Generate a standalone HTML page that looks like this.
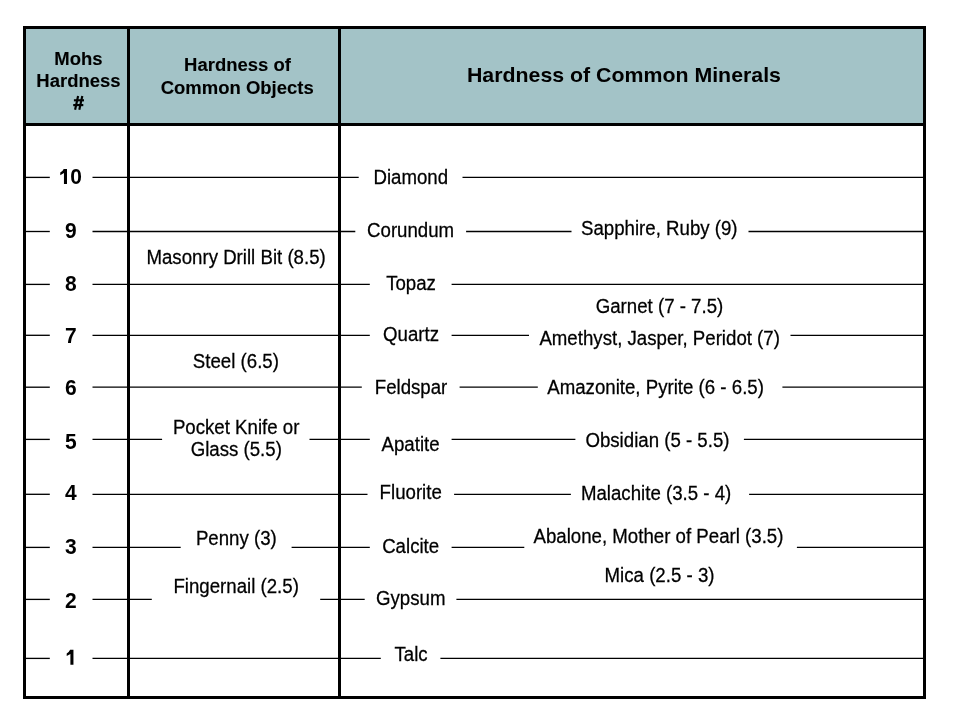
<!DOCTYPE html><html><head><meta charset="utf-8"><style>html,body{margin:0;padding:0;background:#fff;width:960px;height:720px;overflow:hidden}svg{display:block;will-change:transform}text{font-family:"Liberation Sans",sans-serif;fill:#000}</style></head><body>
<svg width="960" height="720" viewBox="0 0 960 720">
<rect x="0" y="0" width="960" height="720" fill="#fff"/>
<rect x="24.5" y="27.5" width="900.0" height="97.0" fill="#A3C3C7"/>
<line x1="24.5" y1="177.4" x2="49.8" y2="177.4" stroke="#000" stroke-width="1.33"/>
<line x1="92.5" y1="177.4" x2="358.7" y2="177.4" stroke="#000" stroke-width="1.33"/>
<line x1="462.5" y1="177.4" x2="925.8" y2="177.4" stroke="#000" stroke-width="1.33"/>
<line x1="24.5" y1="231.5" x2="49.8" y2="231.5" stroke="#000" stroke-width="1.33"/>
<line x1="92.5" y1="231.5" x2="355.3" y2="231.5" stroke="#000" stroke-width="1.33"/>
<line x1="466.1" y1="231.5" x2="571.5" y2="231.5" stroke="#000" stroke-width="1.33"/>
<line x1="748.5" y1="231.5" x2="925.8" y2="231.5" stroke="#000" stroke-width="1.33"/>
<line x1="24.5" y1="284.4" x2="49.8" y2="284.4" stroke="#000" stroke-width="1.33"/>
<line x1="92.5" y1="284.4" x2="369.8" y2="284.4" stroke="#000" stroke-width="1.33"/>
<line x1="451.6" y1="284.4" x2="925.8" y2="284.4" stroke="#000" stroke-width="1.33"/>
<line x1="24.5" y1="335.3" x2="49.8" y2="335.3" stroke="#000" stroke-width="1.33"/>
<line x1="92.5" y1="335.3" x2="369.8" y2="335.3" stroke="#000" stroke-width="1.33"/>
<line x1="451.6" y1="335.3" x2="529.0" y2="335.3" stroke="#000" stroke-width="1.33"/>
<line x1="790.5" y1="335.3" x2="925.8" y2="335.3" stroke="#000" stroke-width="1.33"/>
<line x1="24.5" y1="387.2" x2="49.8" y2="387.2" stroke="#000" stroke-width="1.33"/>
<line x1="92.5" y1="387.2" x2="361.8" y2="387.2" stroke="#000" stroke-width="1.33"/>
<line x1="459.6" y1="387.2" x2="537.8" y2="387.2" stroke="#000" stroke-width="1.33"/>
<line x1="782.4" y1="387.2" x2="925.8" y2="387.2" stroke="#000" stroke-width="1.33"/>
<line x1="24.5" y1="439.4" x2="49.8" y2="439.4" stroke="#000" stroke-width="1.33"/>
<line x1="92.5" y1="439.4" x2="162.1" y2="439.4" stroke="#000" stroke-width="1.33"/>
<line x1="309.5" y1="439.4" x2="369.8" y2="439.4" stroke="#000" stroke-width="1.33"/>
<line x1="451.6" y1="439.4" x2="575.4" y2="439.4" stroke="#000" stroke-width="1.33"/>
<line x1="743.9" y1="439.4" x2="925.8" y2="439.4" stroke="#000" stroke-width="1.33"/>
<line x1="24.5" y1="494.3" x2="49.8" y2="494.3" stroke="#000" stroke-width="1.33"/>
<line x1="92.5" y1="494.3" x2="367.5" y2="494.3" stroke="#000" stroke-width="1.33"/>
<line x1="454.1" y1="494.3" x2="570.9" y2="494.3" stroke="#000" stroke-width="1.33"/>
<line x1="749.1" y1="494.3" x2="925.8" y2="494.3" stroke="#000" stroke-width="1.33"/>
<line x1="24.5" y1="547.4" x2="49.8" y2="547.4" stroke="#000" stroke-width="1.33"/>
<line x1="92.5" y1="547.4" x2="180.7" y2="547.4" stroke="#000" stroke-width="1.33"/>
<line x1="291.6" y1="547.4" x2="369.8" y2="547.4" stroke="#000" stroke-width="1.33"/>
<line x1="451.6" y1="547.4" x2="524.3" y2="547.4" stroke="#000" stroke-width="1.33"/>
<line x1="796.9" y1="547.4" x2="925.8" y2="547.4" stroke="#000" stroke-width="1.33"/>
<line x1="24.5" y1="599.4" x2="49.8" y2="599.4" stroke="#000" stroke-width="1.33"/>
<line x1="92.5" y1="599.4" x2="151.8" y2="599.4" stroke="#000" stroke-width="1.33"/>
<line x1="320.2" y1="599.4" x2="364.7" y2="599.4" stroke="#000" stroke-width="1.33"/>
<line x1="456.4" y1="599.4" x2="925.8" y2="599.4" stroke="#000" stroke-width="1.33"/>
<line x1="24.5" y1="658.4" x2="49.8" y2="658.4" stroke="#000" stroke-width="1.33"/>
<line x1="92.5" y1="658.4" x2="380.8" y2="658.4" stroke="#000" stroke-width="1.33"/>
<line x1="440.4" y1="658.4" x2="925.8" y2="658.4" stroke="#000" stroke-width="1.33"/>
<rect x="24.5" y="27.5" width="900.0" height="670.0" fill="none" stroke="#000" stroke-width="3"/>
<line x1="24.5" y1="124.5" x2="924.5" y2="124.5" stroke="#000" stroke-width="3"/>
<line x1="128.5" y1="27.5" x2="128.5" y2="697.5" stroke="#000" stroke-width="3"/>
<line x1="339.5" y1="27.5" x2="339.5" y2="697.5" stroke="#000" stroke-width="3"/>
<text transform="translate(236.10,263.75) scale(1,1.035)" font-size="18.67" font-weight="400" text-anchor="middle" stroke="#000" stroke-width="0.25">Masonry Drill Bit (8.5)</text>
<text transform="translate(235.90,367.8) scale(1,1.035)" font-size="18.67" font-weight="400" text-anchor="middle" stroke="#000" stroke-width="0.25">Steel (6.5)</text>
<text transform="translate(236.15,434.3) scale(1,1.035)" font-size="18.67" font-weight="400" text-anchor="middle" stroke="#000" stroke-width="0.25">Pocket Knife or</text>
<text transform="translate(236.25,456) scale(1,1.035)" font-size="18.67" font-weight="400" text-anchor="middle" stroke="#000" stroke-width="0.25">Glass (5.5)</text>
<text transform="translate(236.35,544.8) scale(1,1.035)" font-size="18.67" font-weight="400" text-anchor="middle" stroke="#000" stroke-width="0.25">Penny (3)</text>
<text transform="translate(236.15,593.4) scale(1,1.035)" font-size="18.67" font-weight="400" text-anchor="middle" stroke="#000" stroke-width="0.25">Fingernail (2.5)</text>
<text transform="translate(410.75,184.1) scale(1,1.035)" font-size="18.67" font-weight="400" text-anchor="middle" stroke="#000" stroke-width="0.25">Diamond</text>
<text transform="translate(410.60,236.6) scale(1,1.035)" font-size="18.67" font-weight="400" text-anchor="middle" stroke="#000" stroke-width="0.25">Corundum</text>
<text transform="translate(411.05,289.8) scale(1,1.035)" font-size="18.67" font-weight="400" text-anchor="middle" stroke="#000" stroke-width="0.25">Topaz</text>
<text transform="translate(411.00,341.3) scale(1,1.035)" font-size="18.67" font-weight="400" text-anchor="middle" stroke="#000" stroke-width="0.25">Quartz</text>
<text transform="translate(411.05,394) scale(1,1.035)" font-size="18.67" font-weight="400" text-anchor="middle" stroke="#000" stroke-width="0.25">Feldspar</text>
<text transform="translate(410.55,450.8) scale(1,1.035)" font-size="18.67" font-weight="400" text-anchor="middle" stroke="#000" stroke-width="0.25">Apatite</text>
<text transform="translate(410.70,499.4) scale(1,1.035)" font-size="18.67" font-weight="400" text-anchor="middle" stroke="#000" stroke-width="0.25">Fluorite</text>
<text transform="translate(410.65,553.2) scale(1,1.035)" font-size="18.67" font-weight="400" text-anchor="middle" stroke="#000" stroke-width="0.25">Calcite</text>
<text transform="translate(410.70,605.2) scale(1,1.035)" font-size="18.67" font-weight="400" text-anchor="middle" stroke="#000" stroke-width="0.25">Gypsum</text>
<text transform="translate(411.05,660.9) scale(1,1.035)" font-size="18.67" font-weight="400" text-anchor="middle" stroke="#000" stroke-width="0.25">Talc</text>
<text transform="translate(659.30,234.6) scale(1,1.035)" font-size="18.67" font-weight="400" text-anchor="middle" stroke="#000" stroke-width="0.25">Sapphire, Ruby (9)</text>
<text transform="translate(659.50,313.3) scale(1,1.035)" font-size="18.67" font-weight="400" text-anchor="middle" stroke="#000" stroke-width="0.25">Garnet (7 - 7.5)</text>
<text transform="translate(659.65,345.4) scale(1,1.035)" font-size="18.67" font-weight="400" text-anchor="middle" stroke="#000" stroke-width="0.25">Amethyst, Jasper, Peridot (7)</text>
<text transform="translate(655.55,394.2) scale(1,1.035)" font-size="18.67" font-weight="400" text-anchor="middle" stroke="#000" stroke-width="0.25">Amazonite, Pyrite (6 - 6.5)</text>
<text transform="translate(657.45,446.6) scale(1,1.035)" font-size="18.67" font-weight="400" text-anchor="middle" stroke="#000" stroke-width="0.25">Obsidian (5 - 5.5)</text>
<text transform="translate(656.10,500) scale(1,1.035)" font-size="18.67" font-weight="400" text-anchor="middle" stroke="#000" stroke-width="0.25">Malachite (3.5 - 4)</text>
<text transform="translate(658.45,543.1) scale(1,1.035)" font-size="18.67" font-weight="400" text-anchor="middle" stroke="#000" stroke-width="0.25">Abalone, Mother of Pearl (3.5)</text>
<text transform="translate(659.52,582.2) scale(1,1.035)" font-size="18.67" font-weight="400" text-anchor="middle" stroke="#000" stroke-width="0.25">Mica (2.5 - 3)</text>
<text transform="translate(78.40,64.5) scale(1,1.035)" font-size="18.5" font-weight="700" text-anchor="middle" stroke="#000" stroke-width="0.1">Mohs</text>
<text transform="translate(78.45,86.9) scale(1,1.035)" font-size="18.5" font-weight="700" text-anchor="middle" stroke="#000" stroke-width="0.1">Hardness</text>
<text transform="translate(237.50,71.4) scale(1,1.035)" font-size="18.5" font-weight="700" text-anchor="middle" stroke="#000" stroke-width="0.1">Hardness of</text>
<text transform="translate(237.20,93.6) scale(1,1.035)" font-size="18.5" font-weight="700" text-anchor="middle" stroke="#000" stroke-width="0.1">Common Objects</text>
<text transform="translate(623.95,82.4) scale(1,0.95)" font-size="21.33" font-weight="700" text-anchor="middle">Hardness of Common Minerals</text>
<g stroke="#000" stroke-width="2.15" fill="none"><line x1="73.9" y1="100.3" x2="84" y2="100.3"/><line x1="73.2" y1="105.1" x2="83.3" y2="105.1"/><line x1="78.1" y1="96" x2="75.1" y2="109.8"/><line x1="82.3" y1="96" x2="79.3" y2="109.8"/></g>
<path d="M67 168.90 L67 184 L63.95 184 L63.95 173.10 L60.25 175.30 L60.25 172.60 Q62.50 171.40 63.70 168.90 Z" fill="#000"/>
<text transform="translate(76.2,184) scale(1,1.08)" font-size="21" font-weight="700" text-anchor="middle">0</text>
<text transform="translate(70.9,237.5) scale(1,1.08)" font-size="21" font-weight="700" text-anchor="middle">9</text>
<text transform="translate(70.9,290.6) scale(1,1.08)" font-size="21" font-weight="700" text-anchor="middle">8</text>
<text transform="translate(70.9,342.5) scale(1,1.08)" font-size="21" font-weight="700" text-anchor="middle">7</text>
<text transform="translate(70.9,395) scale(1,1.08)" font-size="21" font-weight="700" text-anchor="middle">6</text>
<text transform="translate(70.9,449.4) scale(1,1.08)" font-size="21" font-weight="700" text-anchor="middle">5</text>
<text transform="translate(70.9,500) scale(1,1.08)" font-size="21" font-weight="700" text-anchor="middle">4</text>
<text transform="translate(70.9,553.75) scale(1,1.08)" font-size="21" font-weight="700" text-anchor="middle">3</text>
<text transform="translate(70.9,607.5) scale(1,1.08)" font-size="21" font-weight="700" text-anchor="middle">2</text>
<path d="M73.45 649.70 L73.45 664.8 L70.40 664.8 L70.40 653.90 L66.70 656.10 L66.70 653.40 Q68.95 652.20 70.15 649.70 Z" fill="#000"/>
</svg></body></html>
